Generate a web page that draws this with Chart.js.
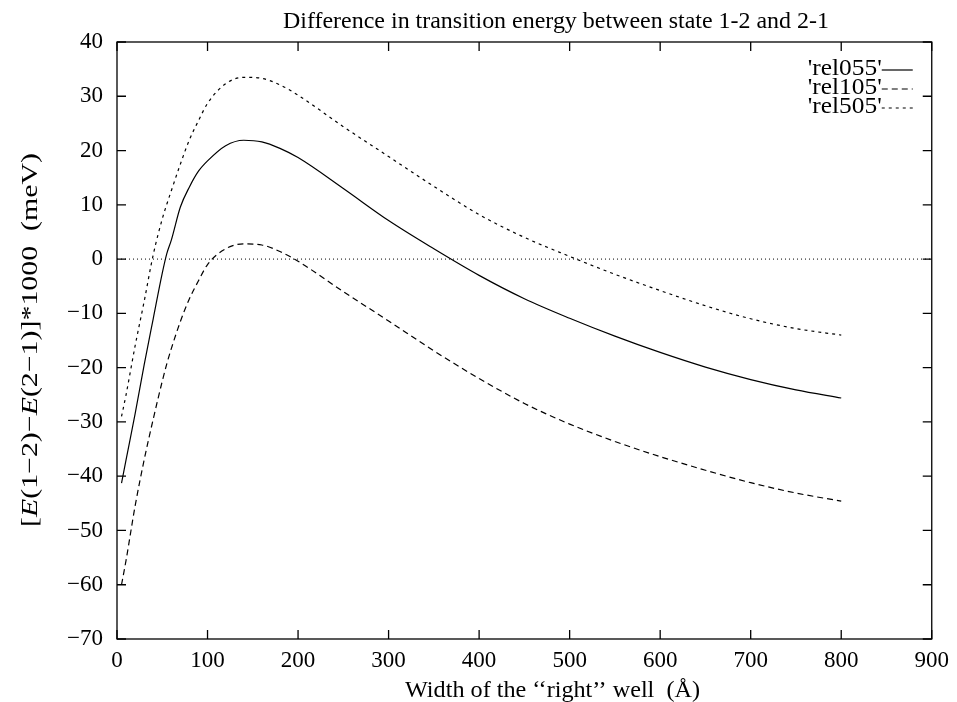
<!DOCTYPE html>
<html>
<head>
<meta charset="utf-8">
<script src="https://cdn.jsdelivr.net/npm/chart.js@4.4.1/dist/chart.umd.min.js"></script>
<style>
  html, body { margin: 0; padding: 0; background: #fff; }
  canvas { display: block; }
</style>
</head>
<body>
<canvas id="chart" width="957" height="702"></canvas>
<script>
// well width (Angstrom) where the curves were sampled
const widths = [5, 10, 20, 30, 40, 50, 55, 60, 70, 80, 90, 100, 120, 140, 160, 180, 200,
  250, 300, 350, 400, 450, 500, 550, 600, 650, 700, 750, 800];

// [E(1-2)-E(2-1)]*1000 in meV
const rel055 = [-41.3, -37.0, -28.5, -19.5, -11.0, -2.6, 1.0, 3.5, 9.6, 13.3, 16.2, 18.1, 20.9, 21.9, 21.6, 20.4, 18.7,
  13.0, 7.1, 1.9, -3.0, -7.3, -10.9, -14.2, -17.2, -19.9, -22.2, -24.1, -25.6];
const rel105 = [-60.0, -55.5, -45.5, -37.0, -29.5, -22.5, -19.3, -16.5, -11.5, -7.3, -4.0, -1.0, 1.9, 2.8, 2.6, 1.4, -0.4,
  -6.0, -11.4, -16.9, -22.0, -26.6, -30.4, -33.6, -36.4, -38.9, -41.2, -43.1, -44.6];
const rel505 = [-29.0, -25.0, -16.0, -7.8, 0.8, 7.4, 10.1, 12.6, 17.5, 22.0, 25.5, 28.7, 32.3, 33.5, 33.3, 32.1, 30.2,
  24.4, 18.9, 13.4, 8.2, 4.0, 0.5, -2.8, -5.8, -8.6, -11.0, -12.8, -14.0];

const seriesNames = ["'rel055'", "'rel105'", "'rel505'"];
const seriesDash = [[], [6, 4], [3, 4]];

const xTicks = [0, 100, 200, 300, 400, 500, 600, 700, 800, 900];
const yTicks = [-70, -60, -50, -40, -30, -20, -10, 0, 10, 20, 30, 40];

const titleText = 'Difference in transition energy between state 1-2 and 2-1';
const xTitle = 'Width of the \u2018\u2018right\u2019\u2019 well  (\u00c5)';
// y title pieces, the E's are italic
const yTitleParts = [['[', false], ['E', true], ['(1\u22122)\u2212', false], ['E', true], ['(2\u22121)]*1000  (meV)', false]];

const FONT = '"Liberation Serif", "DejaVu Serif", serif';
const SIZE = 23;

const toPoints = ys => ys.map((y, i) => ({ x: widths[i], y: y }));

// draw a string stretched to a given length (gnuplot's text runs a little wide)
function stretchedText(ctx, text, x, y, width) {
  const w = ctx.measureText(text).width;
  ctx.save();
  ctx.translate(x, y);
  ctx.scale(width / w, 1);
  ctx.fillText(text, 0, 0);
  ctx.restore();
}

// gnuplot style frame: border on four sides and inward ticks mirrored
const framePlugin = {
  id: 'frame',
  afterDraw(chart) {
    const { ctx, chartArea: a, scales } = chart;
    const len = 9;
    ctx.save();
    ctx.strokeStyle = '#000';
    ctx.lineWidth = 1.3;
    ctx.strokeRect(a.left, a.top, a.right - a.left, a.bottom - a.top);
    ctx.beginPath();
    xTicks.forEach(v => {
      const px = scales.x.getPixelForValue(v);
      ctx.moveTo(px, a.bottom); ctx.lineTo(px, a.bottom - len);
      ctx.moveTo(px, a.top); ctx.lineTo(px, a.top + len);
    });
    yTicks.forEach(v => {
      const py = scales.y.getPixelForValue(v);
      ctx.moveTo(a.left, py); ctx.lineTo(a.left + len, py);
      ctx.moveTo(a.right, py); ctx.lineTo(a.right - len, py);
    });
    ctx.stroke();

    ctx.fillStyle = '#000';
    ctx.font = SIZE + 'px ' + FONT;
    ctx.textAlign = 'left';
    ctx.textBaseline = 'alphabetic';
    // title and x title
    stretchedText(ctx, titleText, 283, 28, 546);
    stretchedText(ctx, xTitle, 405, 697, 295);

    // rotated y title with italic E
    ctx.translate(37, 527);
    ctx.rotate(-Math.PI / 2);
    let total = 0;
    yTitleParts.forEach(([t, it]) => {
      ctx.font = (it ? 'italic ' : '') + SIZE + 'px ' + FONT;
      total += ctx.measureText(t).width;
    });
    ctx.scale(374 / total, 1);
    let cx = 0;
    yTitleParts.forEach(([t, it]) => {
      ctx.font = (it ? 'italic ' : '') + SIZE + 'px ' + FONT;
      ctx.fillText(t, cx, 0);
      cx += ctx.measureText(t).width;
    });
    ctx.restore();

    // key in the top right corner
    ctx.save();
    ctx.font = SIZE + 'px ' + FONT;
    ctx.textAlign = 'left';
    ctx.textBaseline = 'alphabetic';
    ctx.fillStyle = '#000';
    ctx.strokeStyle = '#000';
    ctx.lineWidth = 1.2;
    seriesNames.forEach((name, i) => {
      const y = 75 + i * 19;
      stretchedText(ctx, name, a.right - 124, y, 74);
      ctx.setLineDash(seriesDash[i]);
      ctx.beginPath();
      ctx.moveTo(a.right - 50, y - 5);
      ctx.lineTo(a.right - 19, y - 5);
      ctx.stroke();
    });
    ctx.restore();
  }
};

const lineSet = (label, ys, dash) => ({
  label: label,
  data: toPoints(ys),
  borderColor: '#000',
  borderWidth: 1.2,
  borderDash: dash,
  pointRadius: 0,
  fill: false,
  cubicInterpolationMode: 'monotone'
});

new Chart(document.getElementById('chart'), {
  type: 'line',
  data: {
    datasets: [
      {
        label: 'zero',
        data: [{ x: xTicks[0], y: 0 }, { x: xTicks[xTicks.length - 1], y: 0 }],
        borderColor: '#000',
        borderWidth: 1,
        borderDash: [1, 3],
        pointRadius: 0
      },
      lineSet(seriesNames[0], rel055, seriesDash[0]),
      lineSet(seriesNames[1], rel105, seriesDash[1]),
      lineSet(seriesNames[2], rel505, seriesDash[2])
    ]
  },
  options: {
    responsive: false,
    animation: false,
    layout: { padding: { top: 42, right: 23, bottom: 0, left: 0 } },
    plugins: {
      legend: { display: false },
      tooltip: { enabled: false }
    },
    scales: {
      x: {
        type: 'linear',
        min: 0,
        max: 900,
        afterBuildTicks: scale => { scale.ticks = xTicks.map(v => ({ value: v })); },
        grid: { display: true, drawOnChartArea: false, drawTicks: false },
        border: { display: false },
        ticks: { color: '#000', font: { family: FONT, size: SIZE }, padding: 8, maxRotation: 0 },
        afterFit: scale => { scale.height = 63; }
      },
      y: {
        type: 'linear',
        min: -70,
        max: 40,
        afterBuildTicks: scale => { scale.ticks = yTicks.map(v => ({ value: v })); },
        grid: { display: true, drawOnChartArea: false, drawTicks: false },
        border: { display: false },
        ticks: {
          color: '#000',
          font: { family: FONT, size: SIZE },
          padding: 14,
          callback: v => String(v).replace('-', '\u2212')
        },
        afterFit: scale => { scale.width = 117; }
      }
    }
  },
  plugins: [framePlugin]
});
</script>
</body>
</html>
